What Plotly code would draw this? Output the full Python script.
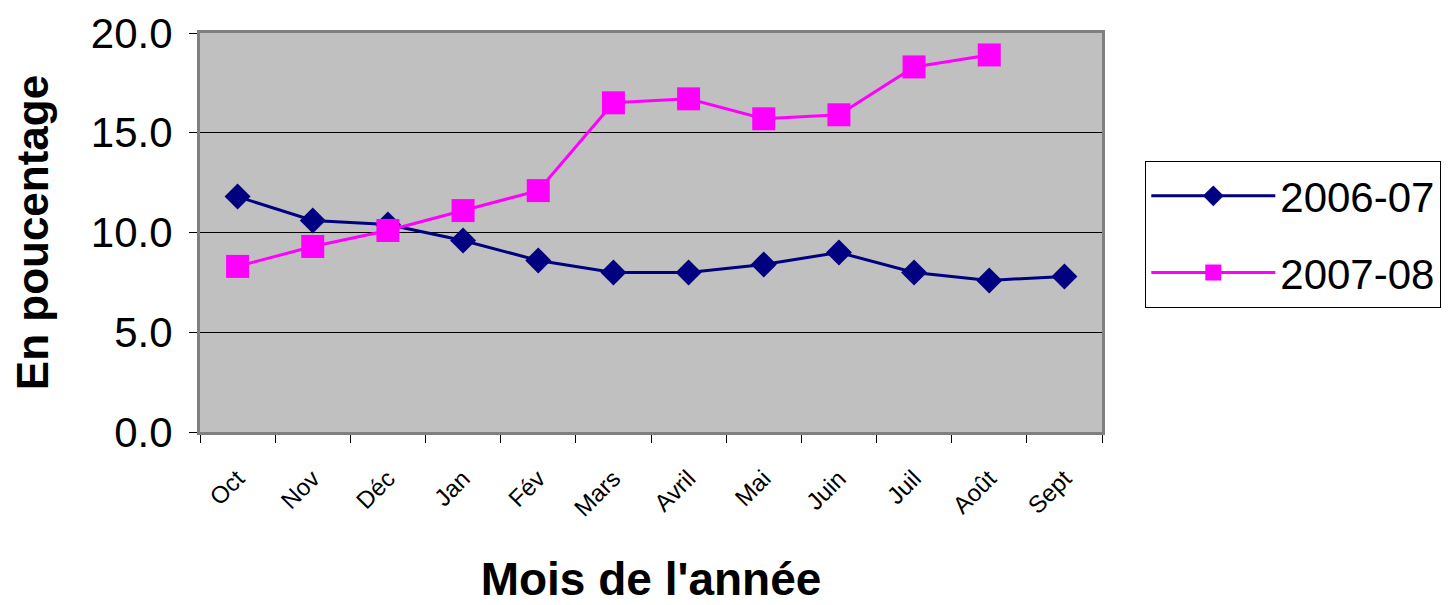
import plotly.graph_objects as go

# Months of the fiscal year (Oct -> Sep)
months = ["Oct", "Nov", "Déc", "Jan", "Fév", "Mars", "Avril", "Mai", "Juin", "Juil", "Août", "Sept"]

# Values in percent
serie_2006_07 = [11.8, 10.6, 10.4, 9.6, 8.6, 8.0, 8.0, 8.4, 9.0, 8.0, 7.6, 7.8]
serie_2007_08 = [8.3, 9.3, 10.1, 11.1, 12.1, 16.5, 16.7, 15.7, 15.9, 18.3, 18.9]

y_ticks = [0, 5, 10, 15, 20]

FONT = "Liberation Sans, Arial, sans-serif"

fig = go.Figure()
fig.add_trace(go.Scatter(
    x=months, y=serie_2006_07, name="2006-07", mode="lines+markers",
    legendgroup="a",
    line=dict(color="#000080", width=3),
    marker=dict(symbol="diamond", size=20, color="#000080"),
))
fig.add_trace(go.Scatter(
    x=months[:len(serie_2007_08)], y=serie_2007_08, name="2007-08", mode="lines+markers",
    legendgroup="b",
    line=dict(color="#FF00FF", width=3),
    marker=dict(symbol="square", size=23, color="#FF00FF"),
))

# page body adds an 8px margin, so the figure is 8px smaller than the window
fig.update_layout(
    width=1445, height=597,
    margin=dict(l=192, r=347, t=25, b=173),
    paper_bgcolor="white",
    plot_bgcolor="#C0C0C0",
    font=dict(family=FONT, size=40, color="black"),
    showlegend=True,
    legend=dict(
        x=1.048, y=0.495, xanchor="left", yanchor="middle",
        bgcolor="white", bordercolor="black", borderwidth=1,
        font=dict(size=42), itemwidth=124,
        traceorder="grouped", tracegroupgap=19,
    ),
    xaxis=dict(
        type="category", categoryorder="array", categoryarray=months,
        range=[-0.5, 11.5], tickson="boundaries",
        ticks="outside", ticklen=8, tickcolor="black",
        tickangle=-45, tickfont=dict(size=24), ticklabelstandoff=20,
        showgrid=False, showline=True, linecolor="#808080", linewidth=3, mirror=True,
        automargin=False,
        title=dict(text="<b>Mois de l'année</b>", font=dict(size=46), standoff=52),
    ),
    yaxis=dict(
        range=[0, 20], tickvals=y_ticks, tickformat=".1f",
        ticks="outside", ticklen=8, tickcolor="black",
        tickfont=dict(size=42), ticklabelstandoff=8,
        showgrid=True, gridcolor="black", gridwidth=1,
        showline=True, linecolor="#808080", linewidth=3, mirror=True,
        zeroline=False, automargin="left",
        title=dict(text="<b>En poucentage</b>", font=dict(size=44), standoff=36),
    ),
)

fig.write_html("out.html")
